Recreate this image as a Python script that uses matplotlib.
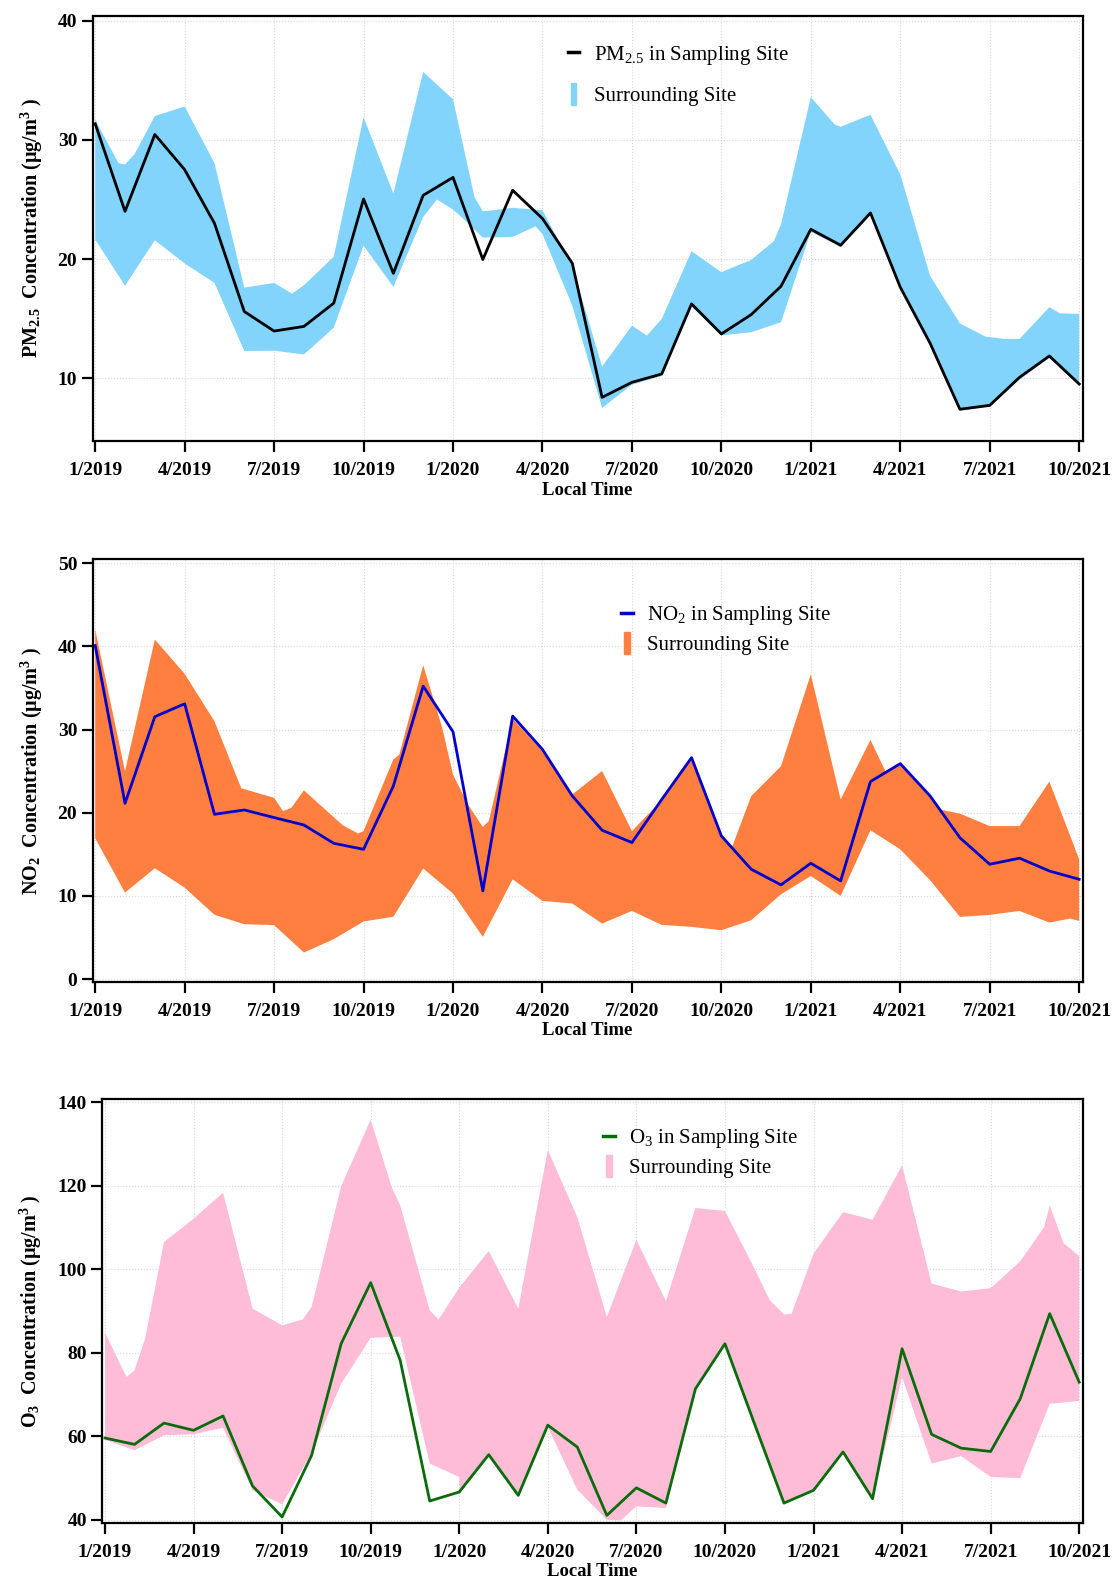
import matplotlib
matplotlib.use("Agg")
import matplotlib.pyplot as plt
import matplotlib.patches as mpatches
from matplotlib.lines import Line2D
from matplotlib.legend_handler import HandlerPatch
import numpy as np

# ── fonts ───────────────────────────────────────────────────────────────────
plt.rcParams["font.family"] = ["Liberation Serif", "DejaVu Serif"]
plt.rcParams["mathtext.fontset"] = "custom"
plt.rcParams["mathtext.rm"] = "Liberation Serif"
plt.rcParams["mathtext.it"] = "Liberation Serif:italic"
plt.rcParams["mathtext.bf"] = "Liberation Serif:bold"

# ── data (x = months since 1/2019) ──────────────────────────────────────────
months = np.arange(34)
tick_pos = np.arange(0, 34, 3)
tick_labels = ["1/2019", "4/2019", "7/2019", "10/2019", "1/2020", "4/2020",
               "7/2020", "10/2020", "1/2021", "4/2021", "7/2021", "10/2021"]

pm_site = [31.35, 24.0, 30.45, 27.5, 23.0, 15.6, 13.96, 14.35, 16.3, 25.04,
           18.8, 25.35, 26.85, 19.96, 25.77, 23.4, 19.65, 8.4, 9.66, 10.36,
           16.24, 13.72, 15.34, 17.72, 22.5, 21.16, 23.87, 17.64, 12.94, 7.4,
           7.73, 10.08, 11.87, 9.52]
pm_up_x = [0, 0.78, 1, 1.32, 2, 3, 4, 5, 6, 6.6, 7, 8, 9, 10, 11, 12, 12.72,
           13, 14, 15, 16, 17, 18, 18.5, 19, 20, 21, 22, 22.76, 23, 24, 24.8,
           25, 26, 27, 28, 29, 29.85, 30.5, 31, 32, 32.35, 33]
pm_up_y = [31.7, 28.05, 27.94, 28.8, 32.0, 32.8, 28.05, 17.6, 18.0, 17.1, 17.8,
           20.2, 31.9, 25.5, 35.7, 33.4, 25.2, 24.0, 24.3, 24.1, 19.4, 10.98,
           14.42, 13.58, 14.98, 20.66, 18.9, 19.93, 21.5, 22.9, 33.58, 31.29,
           31.1, 32.1, 27.1, 18.59, 14.6, 13.5, 13.3, 13.3, 15.96, 15.45, 15.4]
pm_lo_x = [0, 1, 2, 3, 4, 5, 6, 7, 8, 9, 10, 11, 11.46, 12, 12.3, 13, 14,
           14.77, 15, 16, 17, 18, 19, 20, 21, 22, 23, 24, 25, 26, 27, 28, 29,
           30, 31, 32, 33]
pm_lo_y = [21.64, 17.76, 21.58, 19.63, 18.0, 12.29, 12.31, 12.0, 14.24, 21.13,
           17.67, 23.53, 25.0, 24.15, 23.5, 21.8, 21.86, 22.75, 22.1, 16.1,
           7.51, 9.47, 10.2, 16.0, 13.6, 13.86, 14.7, 22.3, 21.0, 23.7, 17.5,
           12.8, 7.3, 7.6, 9.9, 11.7, 9.4]

no2_site = [40.11, 21.14, 31.55, 33.11, 19.82, 20.34, 19.42, 18.53, 16.33,
            15.61, 23.22, 35.23, 29.74, 10.61, 31.63, 27.62, 22.03, 17.9,
            16.42, 21.6, 26.63, 17.22, 13.21, 11.33, 13.93, 11.81, 23.75,
            25.91, 22.03, 17.0, 13.81, 14.54, 13.0, 12.0]
no2_up_x = [0, 1, 2, 3, 4, 4.9, 6, 6.3, 6.58, 7, 8.3, 8.82, 9, 10, 10.2, 11,
            11.64, 12, 12.5, 13, 13.2, 14, 15, 16, 17, 18, 19, 20, 21, 21.35,
            22, 23, 24, 25, 26, 26.5, 27, 28, 28.3, 29, 30, 31, 32, 33]
no2_up_y = [42.03, 25.0, 40.83, 36.71, 31.0, 22.94, 21.8, 20.2, 20.6, 22.7,
            18.5, 17.5, 17.8, 26.42, 27.0, 37.75, 30.2, 24.6, 21.0, 18.3, 19.0,
            31.3, 27.4, 22.2, 25.03, 17.8, 21.5, 26.5, 17.1, 15.8, 22.0, 25.6,
            36.65, 21.6, 28.76, 25.0, 25.8, 21.9, 20.4, 19.9, 18.4, 18.4,
            23.75, 14.4]
no2_lo_x = [0, 1, 2, 3, 4, 5, 6, 7, 8, 9, 10, 11, 12, 13, 14, 15, 16, 17, 18,
            19, 20, 21, 22, 23, 24, 25, 26, 27, 28, 29, 30, 31, 32, 32.7, 33]
no2_lo_y = [16.93, 10.4, 13.33, 11.0, 7.73, 6.6, 6.49, 3.2, 4.8, 6.93, 7.5,
            13.3, 10.29, 5.08, 12.0, 9.4, 9.09, 6.68, 8.2, 6.52, 6.28, 5.88,
            7.08, 10.2, 12.4, 10.0, 17.9, 15.6, 11.9, 7.48, 7.72, 8.2, 6.8,
            7.28, 7.0]

o3_site = [59.63, 58.1, 63.2, 61.47, 64.9, 48.14, 40.72, 55.48, 82.22, 96.82,
           78.23, 44.55, 46.7, 55.64, 45.9, 62.7, 57.46, 41.1, 47.7, 44.05,
           71.4, 82.2, 63.05, 44.05, 47.1, 56.3, 45.1, 81.0, 60.5, 57.2, 56.4,
           69.0, 89.4, 73.0]
o3_up_x = [0, 0.73, 1, 1.36, 2, 3, 4, 5, 6, 6.7, 7, 8, 9, 9.72, 10, 11, 11.3,
           12, 13, 14, 15, 16, 17, 18, 19, 20, 21, 22, 22.52, 23, 23.26, 24,
           25, 26, 27, 28, 29, 30, 31, 31.81, 32, 32.47, 33]
o3_up_y = [84.85, 74.24, 75.8, 83.4, 106.56, 112.1, 118.37, 90.6, 86.6, 88.0,
           91.0, 119.9, 135.85, 119.57, 115.34, 90.2, 88.0, 95.63, 104.4, 90.6,
           128.6, 112.5, 88.6, 107.1, 92.4, 114.7, 114.0, 100.2, 92.6, 89.2,
           89.4, 103.75, 113.7, 111.9, 124.9, 96.6, 94.7, 95.5, 101.9, 110.1,
           115.3, 106.3, 103.2]
o3_lo_x = [0, 1, 2, 3, 4, 5, 6, 7, 8, 9, 10, 11, 12, 12.02, 13, 14, 15, 16,
           17, 17.47, 18, 19, 20, 21, 22, 23, 24, 25, 26, 27, 28, 29, 30, 31,
           32, 33]
o3_lo_y = [59.2, 56.7, 60.27, 60.5, 62.1, 47.1, 43.75, 56.0, 72.6, 83.6, 83.9,
           53.5, 50.3, 46.5, 55.4, 45.7, 62.3, 47.25, 40.06, 39.9, 43.26, 42.86,
           71.2, 82.0, 62.85, 43.85, 46.9, 56.1, 44.9, 74.2, 53.5, 55.3, 50.3,
           50.0, 67.8, 68.5]


def narrow_patch(legend, orig_handle, xdescent, ydescent, width, height, fontsize):
    return mpatches.Rectangle((width * 0.25 - xdescent, -ydescent - height * 0.25),
                              width * 0.5, height * 1.5)


def draw_panel(ax, site, up_x, up_y, lo_x, lo_y, line_color, fill_color,
               ylim, yticks, ylabel, leg_label, leg_anchor, leg_spacing, ylab_x):
    # Surrounding-site band as one polygon (upper edge forward, lower edge back)
    poly_x = np.concatenate([up_x, lo_x[::-1]])
    poly_y = np.concatenate([up_y, lo_y[::-1]])
    ax.fill(poly_x, poly_y, color=fill_color, lw=0, zorder=2)
    ax.plot(months, site, color=line_color, lw=2.0, zorder=3)

    ax.set_xlim(-0.09, 33.12)
    ax.set_ylim(*ylim)
    ax.set_xticks(tick_pos)
    ax.set_xticklabels(tick_labels)
    ax.set_yticks(yticks)
    ax.set_axisbelow(True)
    ax.grid(True, color="#d9d9d9", ls=":", lw=0.8)

    for sp in ax.spines.values():
        sp.set_linewidth(1.6)
    ax.tick_params(axis="both", direction="out", length=8, width=1.6,
                   labelsize=14)
    ax.tick_params(axis="x", pad=7)
    ax.tick_params(axis="y", pad=3)
    for lab in ax.get_xticklabels() + ax.get_yticklabels():
        lab.set_fontweight("bold")

    ax.set_xlabel("Local Time", fontsize=13.5, fontweight="bold", labelpad=2)
    ax.set_ylabel(ylabel, fontsize=14.5, fontweight="bold")
    ax.yaxis.set_label_coords(ylab_x, 0.5)

    handles = [Line2D([], [], color=line_color, lw=2.5),
               mpatches.Patch(color=fill_color)]
    ax.legend(handles, [leg_label, "Surrounding Site"], loc="upper left",
              bbox_to_anchor=leg_anchor, frameon=False, fontsize=15,
              handlelength=0.55, handleheight=0.7, handletextpad=0.7,
              labelspacing=leg_spacing, borderpad=0, borderaxespad=0,
              handler_map={mpatches.Patch: HandlerPatch(patch_func=narrow_patch)})


fig = plt.figure(figsize=(11.12, 15.84), dpi=100)
ax1 = fig.add_axes([0.0832, 0.7216, 0.8905, 0.2683])
ax2 = fig.add_axes([0.0832, 0.3802, 0.8905, 0.2667])
ax3 = fig.add_axes([0.0920, 0.0387, 0.8817, 0.2675])

draw_panel(ax1, pm_site, pm_up_x, pm_up_y, pm_lo_x, pm_lo_y,
           "black", "#82d4fd", (4.74, 40.39), [10, 20, 30, 40],
           r"PM$_\mathbf{2.5}$  Concentration (μg/m$^\mathbf{3}$ )",
           r"PM$_{2.5}$ in Sampling Site", (0.48, 0.935), 0.95, -0.048)
draw_panel(ax2, no2_site, no2_up_x, no2_up_y, no2_lo_x, no2_lo_y,
           "#0000cc", "#ff7f40", (-0.32, 50.48), [0, 10, 20, 30, 40, 50],
           r"NO$_\mathbf{2}$  Concentration (μg/m$^\mathbf{3}$ )",
           r"NO$_2$ in Sampling Site", (0.534, 0.894), 0.4, -0.048)
draw_panel(ax3, o3_site, o3_up_x, o3_up_y, o3_lo_x, o3_lo_y,
           "#0a6b0a", "#ffbcd7", (39.35, 140.8), [40, 60, 80, 100, 120, 140],
           r"O$_\mathbf{3}$  Concentration (μg/m$^\mathbf{3}$ )",
           r"O$_3$ in Sampling Site", (0.511, 0.934), 0.4, -0.059)

fig.savefig("out.png", dpi=100)
